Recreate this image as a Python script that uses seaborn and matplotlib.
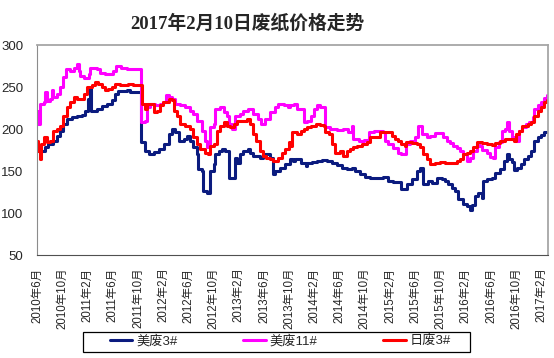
import pandas as pd
import matplotlib
matplotlib.use("Agg")
import matplotlib.pyplot as plt
from matplotlib.patches import Rectangle
import seaborn as sns

# x values are months counted from 2010年6月
us3_m = [0, 1.3, 1.8, 2.6, 3.2, 3.7, 4.2, 4.7, 5.5, 6.3, 7.1, 7.6, 8.1, 8.35, 8.55, 9.5,
         10.3, 11.1, 11.9, 12.4, 12.9, 14.2, 14.8, 16.45, 17.1, 17.7, 18.5, 19.3, 20.1,
         20.9, 21.4, 21.9, 22.5, 23.3, 23.8, 24.3, 24.8, 25.4, 25.6, 26.2, 26.4, 26.9,
         27.4, 27.5, 28, 28.3, 28.8, 29.3, 29.8, 30.4, 31.4, 31.8, 32.2, 32.7, 33.4,
         33.8, 34.3, 35.4, 35.9, 37, 37.4, 37.7, 38.5, 39.3, 40.1, 40.6, 41, 41.8,
         42.6, 42.8, 43.6, 44.4, 45.2, 46, 46.8, 47.6, 48.4, 49.2, 49.9, 50.5, 51.3,
         52.1, 52.8, 54.9, 55.7, 56.5, 57.8, 58.7, 59.4, 60.2, 60.7, 61.2, 62, 62.6,
         63.4, 64.2, 64.7, 65.2, 65.8, 66.3, 66.8, 67.6, 68.2, 68.6, 69, 69.5, 70,
         70.6, 70.7, 71.4, 72.2, 72.7, 73.5, 74, 74.6, 74.8, 75.4, 75.7, 76.2, 76.7,
         77.2, 77.9, 78.3, 78.8, 79.4, 79.9, 80.4, 80.9]
us3_v = [174, 178, 182, 186, 192, 198, 206, 212, 214, 216, 217, 222, 236, 248, 222, 224,
         227, 230, 234, 242, 245, 246, 244, 184, 174, 170, 173, 176, 182,
         194, 200, 196, 186, 188, 192, 186, 178, 170, 152, 150, 126, 124,
         130, 150, 158, 170, 174, 176, 174, 142, 166, 160, 170, 174, 176,
         172, 168, 166, 170, 166, 146, 150, 154, 158, 164, 162, 164, 160,
         156, 160, 161, 162, 163, 162, 160, 157, 154, 152, 154, 150, 146,
         143, 142, 143, 138, 137, 129, 134, 140, 150, 154, 134, 138, 136,
         142, 140, 138, 134, 130, 126, 117, 111, 108, 104, 110, 120, 124,
         118, 138, 140, 142, 148, 152, 162, 170, 164, 161, 151, 154, 158,
         164, 168, 174, 186, 190, 193, 196, 197]

us11_m = [0, 0.1, 0.4, 1.05, 1.3, 1.6, 2.1, 2.4, 2.6, 3.2, 3.7, 4.2, 4.6, 5.3, 5.8, 6.3,
          6.6, 6.85, 7.4, 8.2, 8.4, 9.5, 10, 10.8, 12.1, 12.55, 13.4, 14.2, 15.3,
          16.45, 17.1, 17.4, 17.9, 18.7, 19.5, 20, 20.4, 20.9, 21.4, 21.9, 22.7,
          23.5, 24.3, 24.8, 25.4, 26.2, 26.7, 26.9, 27.2, 27.5, 28, 28.3, 29.1,
          29.6, 30.1, 30.4, 30.9, 31.4, 32.2, 32.7, 33.5, 34.3, 35.1, 35.6, 36.2,
          36.9, 37.7, 38.3, 39.1, 39.8, 40.2, 40.7, 41.2, 42.3, 42.8, 43.4, 43.9,
          44.4, 44.9, 45.7, 46.5, 47.6, 48.6, 49.4, 49.9, 50.2, 51, 51.8, 52.6,
          53.4, 54.9, 55.2, 55.7, 56.5, 57.3, 57.8, 58.6, 59.2, 59.9, 60.5, 61.1,
          61.8, 62.3, 63.1, 64.4, 65, 65.5, 66, 66.6, 67.1, 67.6, 68.2, 68.7, 69.2,
          69.8, 70.1, 70.6, 71.4, 71.9, 72.4, 72.7, 73.2, 73.8, 74.3, 74.6, 74.8,
          75.4, 75.9, 76.4, 77, 77.5, 78, 78.6, 78.8, 79.4, 79.9, 80.4, 80.9]
us11_v = [222, 206, 230, 232, 244, 233, 236, 246, 238, 242, 250, 262, 271, 269, 273, 277,
          269, 263, 261, 265, 273, 271, 267, 265, 269, 275, 273, 272, 271,
          208, 210, 226, 230, 228, 230, 232, 240, 238, 236, 230, 228,
          226, 222, 218, 210, 198, 186, 178, 182, 202, 206, 224, 226,
          220, 216, 206, 200, 216, 218, 222, 224, 218, 212, 206, 212,
          220, 226, 230, 228, 226, 228, 230, 224, 208, 210, 216, 224,
          228, 226, 202, 200, 199, 200, 197, 204, 188, 186, 187, 197,
          198, 196, 186, 182, 177, 172, 170, 182, 186, 190, 204, 194,
          190, 192, 195, 191, 186, 183, 180, 177, 174, 170, 162, 166, 174,
          182, 180, 175, 171, 167, 166, 178, 184, 198, 200, 208, 198,
          190, 186, 198, 202, 206, 208, 214, 224, 228, 232, 237, 241]

jp3_m = [0, 0.1, 0.4, 0.6, 1.05, 1.6, 2.1, 2.6, 3.2, 3.7, 4.2, 4.7, 5.3, 5.8, 6.3, 7.4,
         7.9, 8.7, 9.2, 9.75, 10.3, 10.8, 11.3, 11.9, 12.4, 13.2, 14.5, 15.3, 16.6,
         17.1, 17.4, 18.6, 19, 19.5, 20, 20.9, 21.4, 21.7, 22.2, 22.7, 23.5, 24.3,
         24.8, 25.4, 25.9, 26.7, 27.2, 27.5, 28, 28.5, 29.1, 29.6, 30.1, 30.6, 31.2,
         31.7, 33.3, 33.8, 34.3, 34.8, 35.4, 35.9, 36.4, 36.9, 37.5, 38.3, 38.8,
         39.3, 39.9, 40.1, 40.5, 41.2, 41.8, 42.3, 42.8, 43.4, 44.2, 44.9, 45.5,
         45.7, 46.3, 46.8, 47.3, 48.1, 48.6, 49.2, 49.7, 50.2, 50.7, 51.5, 52.3,
         52.8, 53.6, 54.4, 55.2, 55.7, 56.3, 56.8, 57.3, 57.8, 58.4, 58.6, 59.4,
         60.2, 60.7, 61.2, 61.8, 62.3, 63.1, 63.9, 64.7, 66.6, 67.1, 67.6, 68.2,
         68.7, 69.2, 69.8, 70.6, 71.4, 72.2, 72.7, 73.5, 74.3, 75.6, 75.9, 76.4,
         77, 77.8, 78.3, 78.8, 79.4, 79.9, 80.4, 80.9]
jp3_v = [186, 174, 164, 182, 190, 184, 186, 198, 200, 204, 216, 226, 232, 238, 236, 242,
         250, 252, 256, 254, 250, 246, 248, 250, 254, 252, 254, 252, 230,
         224, 230, 220, 222, 228, 232, 236, 234, 222, 216, 206, 204, 200,
         190, 182, 176, 172, 170, 180, 182, 198, 204, 208, 204, 202, 206,
         210, 212, 206, 194, 186, 174, 168, 166, 164, 162, 166, 172,
         176, 184, 180, 196, 194, 198, 200, 202, 204, 206, 205, 203,
         196, 194, 182, 172, 174, 168, 174, 176, 178, 180, 182, 184,
         190, 191, 196, 197, 196, 192, 188, 186, 182, 180, 184, 183,
         182, 178, 170, 164, 158, 160, 161, 160, 162, 164, 170, 172,
         174, 178, 184, 183, 182, 181, 183, 186, 188, 186, 194, 198,
         203, 206, 208, 216, 222, 226, 232, 234]

series_names = ["美废3#", "美废11#", "日废3#"]
series_colors = ["#0B1B7F", "#FF00FF", "#FF0000"]
tick_labels = ["2010年6月", "2010年10月", "2011年2月", "2011年6月", "2011年10月",
               "2012年2月", "2012年6月", "2012年10月", "2013年2月", "2013年6月",
               "2013年10月", "2014年2月", "2014年6月", "2014年10月", "2015年2月",
               "2015年6月", "2015年10月", "2016年2月", "2016年6月", "2016年10月",
               "2017年2月"]

df = pd.concat([
    pd.DataFrame({"month": us3_m, "price": us3_v, "grade": series_names[0]}),
    pd.DataFrame({"month": us11_m, "price": us11_v, "grade": series_names[1]}),
    pd.DataFrame({"month": jp3_m, "price": jp3_v, "grade": series_names[2]}),
])

sns.set_style("white")
plt.rcParams["font.family"] = ["Liberation Sans", "Noto Sans CJK SC"]

fig = plt.figure(figsize=(5.54, 3.58), dpi=100)
ax = fig.add_axes([37 / 554, 1 - 255 / 358, 511 / 554, 210 / 358])

sns.lineplot(data=df, x="month", y="price", hue="grade", hue_order=series_names,
             palette=series_colors, estimator=None, drawstyle="steps-post",
             linewidth=2.2, ax=ax, legend=False)

ax.set_xlim(0, 81.05)
ax.set_ylim(50, 300)
ax.set_yticks(range(50, 301, 50))
ax.set_xticks(range(0, 4 * len(tick_labels), 4))
ax.set_xticklabels(tick_labels, rotation=90, fontsize=8.3)
ax.set_xlabel("")
ax.set_ylabel("")
ax.tick_params(axis="y", length=0, pad=10, labelsize=9.5)
ax.tick_params(axis="x", direction="in", length=3, width=1, color="#404040", pad=9)

for side in ["top", "right"]:
    ax.spines[side].set_color("#A6A6A6")
    ax.spines[side].set_linewidth(1.3)
ax.spines["left"].set_color("#8C8C8C")
ax.spines["bottom"].set_color("#505050")

fig.text(0.446, 0.935, "2017年2月10日废纸价格走势", ha="center", va="center",
         fontsize=13.5, fontweight="bold",
         family=["Liberation Serif", "Noto Sans CJK SC"])

handles = [plt.Line2D([], [], color=c, lw=2.2) for c in series_colors]
fig.legend(handles, series_names, loc="center", bbox_to_anchor=(0.506, 0.048),
           ncol=3, frameon=False, fontsize=9.5, handlelength=1.7,
           handletextpad=0.3, columnspacing=5.0)
fig.patches.append(Rectangle((83 / 554, 1 - 352 / 358), 387 / 554, 20 / 358,
                             transform=fig.transFigure, fill=False,
                             edgecolor="black", linewidth=0.9))

fig.savefig("out.png", dpi=100)
